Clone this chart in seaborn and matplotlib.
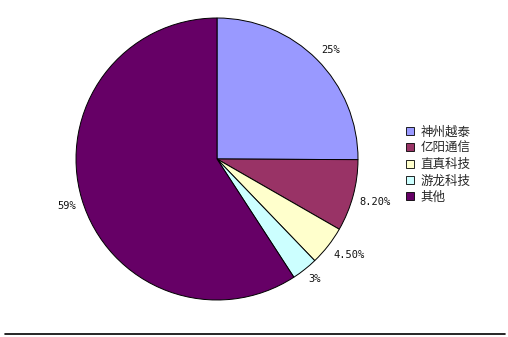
import matplotlib
matplotlib.use("Agg")
import matplotlib.pyplot as plt
from matplotlib.lines import Line2D
import seaborn as sns

categories = ["神州越泰", "亿阳通信", "直真科技", "游龙科技", "其他"]
values = [25, 8.2, 4.5, 3, 59]
value_labels = ["25%", "8.20%", "4.50%", "3%", "59%"]
colors = ["#9999FF", "#993366", "#FFFFCC", "#CCFFFF", "#660066"]

sns.set_theme(style="white")
plt.rcParams['font.family'] = ['Noto Sans CJK SC', 'DejaVu Sans']

W, H = 508, 337
fig = plt.figure(figsize=(W / 100, H / 100), dpi=100)
fig.patch.set_facecolor("white")

cx, cy, r = 217, 159, 141
ax = fig.add_axes([(cx - r) / W, (H - cy - r) / H, 2 * r / W, 2 * r / H])
wedges, texts = ax.pie(values, colors=sns.color_palette(colors), startangle=90,
                       counterclock=False, labels=value_labels, labeldistance=1.045,
                       wedgeprops=dict(edgecolor="black", linewidth=0.7),
                       textprops=dict(fontsize=7.5, color="#111111",
                                      family="DejaVu Sans Mono"))
for t in texts:
    t.set_va("bottom" if t.get_position()[1] > 0 else "top")
ax.set_aspect("equal")
ax.set_xlim(-1, 1)
ax.set_ylim(-1, 1)
ax.axis("off")

leg = fig.legend(wedges, categories, loc="upper left",
                 bbox_to_anchor=(400 / W, 1 - 119 / H), frameon=False,
                 fontsize=9, handlelength=0.6, handleheight=0.6,
                 handletextpad=0.55, labelspacing=0.27, borderpad=0)
for h in leg.legend_handles:
    h.set_edgecolor("black")
    h.set_linewidth(0.6)

fig.add_artist(Line2D([5 / W, 505 / W], [(H - 333.5) / H] * 2, color="black",
                      linewidth=1.2, transform=fig.transFigure))

fig.savefig("out.png", dpi=100)
